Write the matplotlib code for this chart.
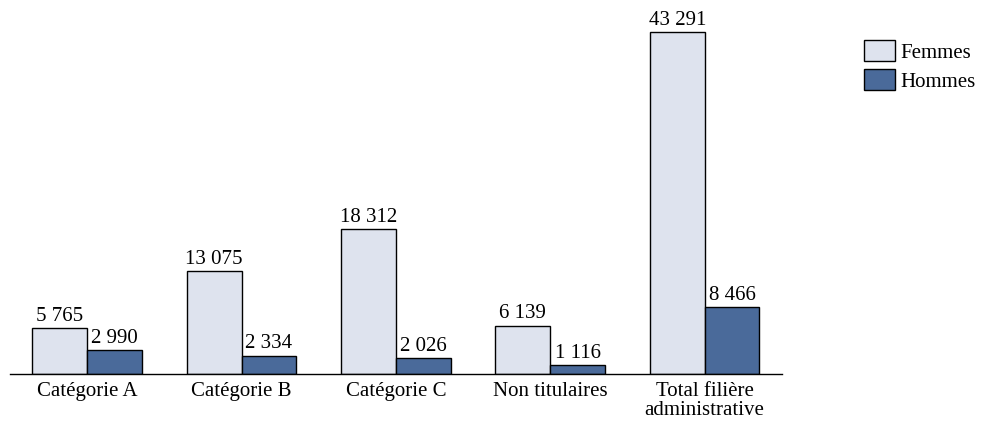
import matplotlib
matplotlib.use("Agg")
import matplotlib.pyplot as plt
import numpy as np

plt.rcParams["font.family"] = ["Liberation Serif", "DejaVu Serif"]
plt.rcParams["font.size"] = 15

categories = ["Catégorie A", "Catégorie B", "Catégorie C", "Non titulaires",
              "Total filière\nadministrative"]
femmes = [5765, 13075, 18312, 6139, 43291]
hommes = [2990, 2334, 2026, 1116, 8466]

FEMMES_COLOR = "#dee3ee"
HOMMES_COLOR = "#4a6a9a"


def fmt(v):
    return f"{v:,}".replace(",", " ")


fig = plt.figure(figsize=(9.87, 4.25), dpi=100)
ax = fig.add_axes([0.0101, 0.12, 0.782, 0.88])

xs = np.arange(len(categories))
w = 0.355
b1 = ax.bar(xs - w / 2, femmes, w, color=FEMMES_COLOR, edgecolor="black",
            linewidth=1, label="Femmes")
b2 = ax.bar(xs + w / 2, hommes, w, color=HOMMES_COLOR, edgecolor="black",
            linewidth=1, label="Hommes")

for x, v in zip(xs - w / 2, femmes):
    ax.annotate(fmt(v), (x, v), xytext=(0, 1.5), textcoords="offset points",
                ha="center", va="bottom")
for x, v in zip(xs + w / 2, hommes):
    ax.annotate(fmt(v), (x, v), xytext=(0, 1.5), textcoords="offset points",
                ha="center", va="bottom")

ax.set_xlim(-0.5, 4.5)
ax.set_ylim(0, 47340)
ax.set_xticks(xs)
ax.set_xticklabels(categories, linespacing=1.0)
ax.tick_params(axis="x", length=0, pad=6)
ax.set_yticks([])
for s in ["left", "right", "top"]:
    ax.spines[s].set_visible(False)
ax.spines["bottom"].set_linewidth(1)

fig.legend(handles=[b1, b2], loc="upper left", bbox_to_anchor=(0.875, 0.906),
           frameon=False, handlelength=1.5, handleheight=1.2,
           handletextpad=0.25, labelspacing=0.3, borderpad=0,
           borderaxespad=0)

fig.savefig("out.png", dpi=100)
